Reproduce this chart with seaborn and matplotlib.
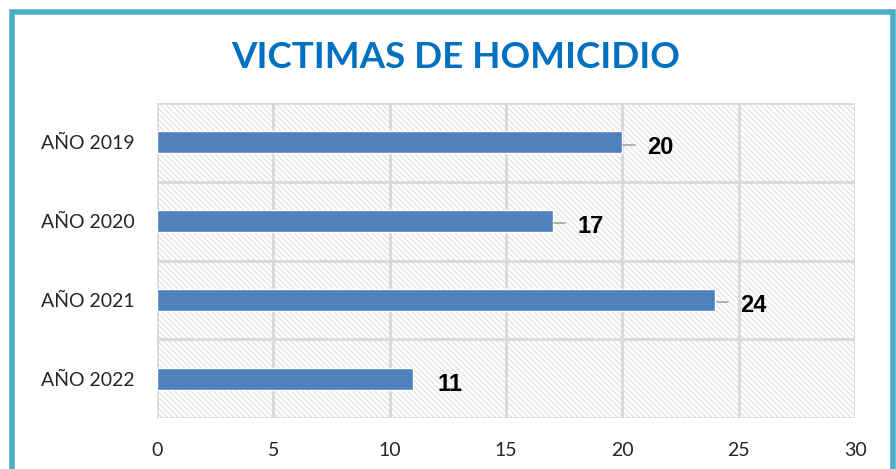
import matplotlib
matplotlib.use("Agg")
import matplotlib.pyplot as plt
import seaborn as sns
import pandas as pd
from matplotlib.patches import Rectangle
from matplotlib.ticker import FixedLocator

categories = ["AÑO 2019", "AÑO 2020", "AÑO 2021", "AÑO 2022"]
values = [20, 17, 24, 11]
xticks = [0, 5, 10, 15, 20, 25, 30]
title = "VICTIMAS DE HOMICIDIO"

df = pd.DataFrame({"cat": categories, "val": values})

sns.set_theme(style="white")
plt.rcParams["font.family"] = ["Lato", "DejaVu Sans"]
plt.rcParams["hatch.linewidth"] = 0.8

fig = plt.figure(figsize=(8.96, 4.69), dpi=100)
ax = fig.add_axes([157/896, 1-418/469, (855-157)/896, (418-103)/469])

# outer border
fig.patches.append(Rectangle((12/896, -0.1), (893-12)/896, 1+0.1-12/469,
                             transform=fig.transFigure, fill=False,
                             edgecolor="#4BACC6", linewidth=4, zorder=0))

# hatched background
ax.add_patch(Rectangle((0, 0), 1, 1, transform=ax.transAxes, facecolor="white",
                       edgecolor="#e0e0e0", hatch="\\\\\\\\\\\\", linewidth=0, zorder=0))

sns.barplot(data=df, y="cat", x="val", color="#4F81BD", saturation=1,
            width=0.28, ax=ax, zorder=3)

ax.set_xlim(0, 30)
ax.set_ylim(len(categories) - 0.5, -0.5)
ax.set_xticks(xticks)
ax.set_xticklabels([str(t) for t in xticks], fontsize=14)
ax.set_yticks(range(len(categories)))
ax.set_yticklabels(categories, fontsize=14)
ax.set_xlabel("")
ax.set_ylabel("")
ax.tick_params(axis="both", which="major", length=0)
ax.tick_params(axis="y", pad=16)
ax.tick_params(axis="x", pad=17)
ax.yaxis.set_minor_locator(FixedLocator([i - 0.5 for i in range(len(categories) + 1)]))
ax.tick_params(axis="y", which="minor", length=7, width=2, color="#d9d9d9")

for x in xticks:
    ax.axvline(x, color="#d9d9d9", lw=2, zorder=1)
for i in range(len(categories) + 1):
    ax.axhline(i - 0.5, color="#d9d9d9", lw=2, zorder=1)

for s in ax.spines.values():
    s.set_visible(False)

for i, v in enumerate(values):
    ax.annotate(str(v), xy=(v, i + 0.07), xycoords="data",
                xytext=(18, 0), textcoords="offset points",
                ha="left", va="center", fontsize=17, fontweight="bold",
                family=["Liberation Sans"], color="black", zorder=5)
    if i < len(values) - 1:
        ax.plot([v + 0.05, v + 0.55], [i + 0.03, i + 0.03], color="#a6a6a6",
                lw=1.2, zorder=4)

fig.text(0.5 + 8/896, 1 - 58/469, title, ha="center", va="center", fontsize=26.5,
         fontweight="bold", color="#0070C0", family=["Lato", "DejaVu Sans"])

fig.savefig("out.png", dpi=100)
